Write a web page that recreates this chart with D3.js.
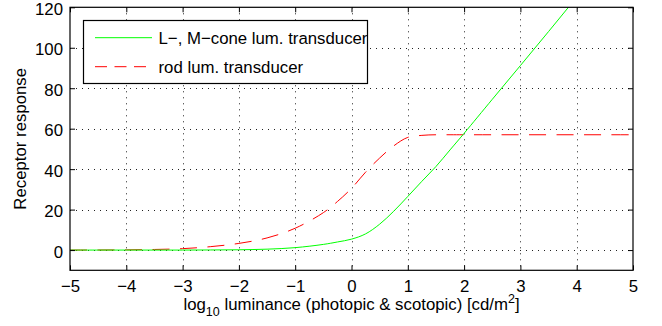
<!DOCTYPE html>
<html>
<head>
<meta charset="utf-8">
<script src="https://cdn.jsdelivr.net/npm/d3@7"></script>
<style>
  html, body { margin: 0; padding: 0; background: #fff; }
  svg { display: block; font-family: "Liberation Sans", Arial, Helvetica, sans-serif; }
</style>
</head>
<body>
<svg id="chart" width="662" height="326"></svg>
<script>
// log10 luminance samples (cd/m^2)
const logLum = [-5, -4.5, -4, -3.5, -3, -2.5, -2, -1.5, -1, -0.5, -0.25, 0, 0.25, 0.5, 0.75,
                1, 1.25, 1.5, 1.75, 2, 2.5, 3, 3.5, 4, 4.5, 5];
// L-, M-cone luminance transducer response
const coneResp = [0, 0, 0, 0, 0, 0.05, 0.15, 0.45, 1.2, 2.8, 4.0, 5.4, 8.0, 12.8, 19.2,
                  26.5, 34, 41.3, 49.5, 57.7, 74.5, 91.2, 108, 125, 141.8, 158.6];
// rod luminance transducer response
const rodResp = [0, 0.03, 0.1, 0.3, 0.7, 1.7, 3.3, 6, 10.8, 18.5, 24, 30.5, 38.5, 45.5, 51.5,
                 55.7, 56.7, 57, 57, 57, 57, 57, 57, 57, 57, 57];

const xTicks = [-5, -4, -3, -2, -1, 0, 1, 2, 3, 4, 5];
const yTicks = [0, 20, 40, 60, 80, 100, 120];
const seriesNames = ["L\u2212, M\u2212cone lum. transducer", "rod lum. transducer"];

const svg = d3.select("#chart");
const L = 70, R = 633, T = 7.3, B = 270.3;
const x = d3.scaleLinear().domain([-5, 5]).range([L, R]);
const y = d3.scaleLinear().domain([-10, 120]).range([B, T]);
const fs = 16.8;

// dotted grid
const grid = svg.append("g").attr("stroke", "#222").attr("stroke-width", 1)
  .attr("stroke-dasharray", "1,5");
xTicks.filter(v => v > -5 && v < 5).forEach(v => {
  const px = Math.round(x(v)) + 0.5;
  grid.append("line").attr("x1", px).attr("x2", px).attr("y1", T).attr("y2", B);
});
yTicks.filter(v => v < 120).forEach(v => {
  const py = Math.round(y(v)) + 0.5;
  grid.append("line").attr("x1", L).attr("x2", R).attr("y1", py).attr("y2", py);
});

// curves, clipped to the axes box
svg.append("clipPath").attr("id", "plotClip")
  .append("rect").attr("x", L).attr("y", T).attr("width", R - L).attr("height", B - T);
const plot = svg.append("g").attr("clip-path", "url(#plotClip)");
const line = ys => d3.line().x((d, i) => x(logLum[i])).y(d => y(d))
  .curve(d3.curveCatmullRom.alpha(0.5))(ys);
plot.append("path").attr("d", line(rodResp)).attr("fill", "none")
  .attr("stroke", "#ff0000").attr("stroke-width", 1).attr("stroke-dasharray", "17,10.5");
plot.append("path").attr("d", line(coneResp)).attr("fill", "none")
  .attr("stroke", "#00ff00").attr("stroke-width", 1);

// axes with inward ticks on all four sides
const tickStyle = g => {
  g.select(".domain").remove();
  g.selectAll(".tick line").attr("stroke", "#000");
  g.selectAll(".tick text").attr("fill", "#000").style("font-size", fs + "px");
};
svg.append("g").attr("transform", `translate(0,${B})`)
  .call(d3.axisBottom(x).tickValues(xTicks).tickSize(-5).tickPadding(16)
  .tickFormat(d3.format("d")))
  .call(tickStyle)
  .call(g => g.selectAll(".tick text").attr("dy", "0.71em").attr("y", 10));
svg.append("g").attr("transform", `translate(0,${T})`)
  .call(d3.axisTop(x).tickValues(xTicks).tickSize(-5).tickFormat(""))
  .call(tickStyle);
svg.append("g").attr("transform", `translate(${L},0)`)
  .call(d3.axisLeft(y).tickValues(yTicks).tickSize(-5).tickPadding(7)
  .tickFormat(d3.format("d")))
  .call(tickStyle)
  .call(g => g.selectAll(".tick text").attr("x", -7).attr("dy", "0.42em"));
svg.append("g").attr("transform", `translate(${R},0)`)
  .call(d3.axisRight(y).tickValues(yTicks).tickSize(-5).tickFormat(""))
  .call(tickStyle);

// axes box
svg.append("rect").attr("x", L).attr("y", T).attr("width", R - L).attr("height", B - T)
  .attr("fill", "none").attr("stroke", "#000").attr("stroke-width", 1.2);

// axis labels
const xl = svg.append("text").attr("x", (L + R) / 2).attr("y", 310)
  .attr("text-anchor", "middle").style("font-size", fs + "px").attr("fill", "#000");
xl.append("tspan").text("log");
xl.append("tspan").attr("dy", 6).style("font-size", "12.5px").text("10");
xl.append("tspan").attr("dy", -6).text(" luminance (photopic & scotopic) [cd/m");
xl.append("tspan").attr("dy", -7).style("font-size", "12.5px").text("2");
xl.append("tspan").attr("dy", 7).text("]");

svg.append("text").attr("transform", `translate(26,${(T + B) / 2}) rotate(-90)`)
  .attr("text-anchor", "middle").style("font-size", fs + "px").attr("fill", "#000")
  .text("Receptor response");

// legend
const lg = svg.append("g");
lg.append("rect").attr("x", 83.5).attr("y", 20.5).attr("width", 284).attr("height", 63)
  .attr("fill", "#fff").attr("stroke", "#000").attr("stroke-width", 1.2);
const rows = [
  { name: seriesNames[0], color: "#00ff00", dash: null, yy: 37.7 },
  { name: seriesNames[1], color: "#ff0000", dash: "12,7.5", yy: 66.7 }
];
rows.forEach(r => {
  lg.append("line").attr("x1", 95).attr("x2", 152).attr("y1", r.yy).attr("y2", r.yy)
    .attr("stroke", r.color).attr("stroke-width", 1)
    .attr("stroke-dasharray", r.dash);
  lg.append("text").attr("x", 158.5).attr("y", r.yy).attr("dy", "0.36em")
    .style("font-size", fs + "px").attr("fill", "#000").text(r.name);
});
</script>
</body>
</html>
